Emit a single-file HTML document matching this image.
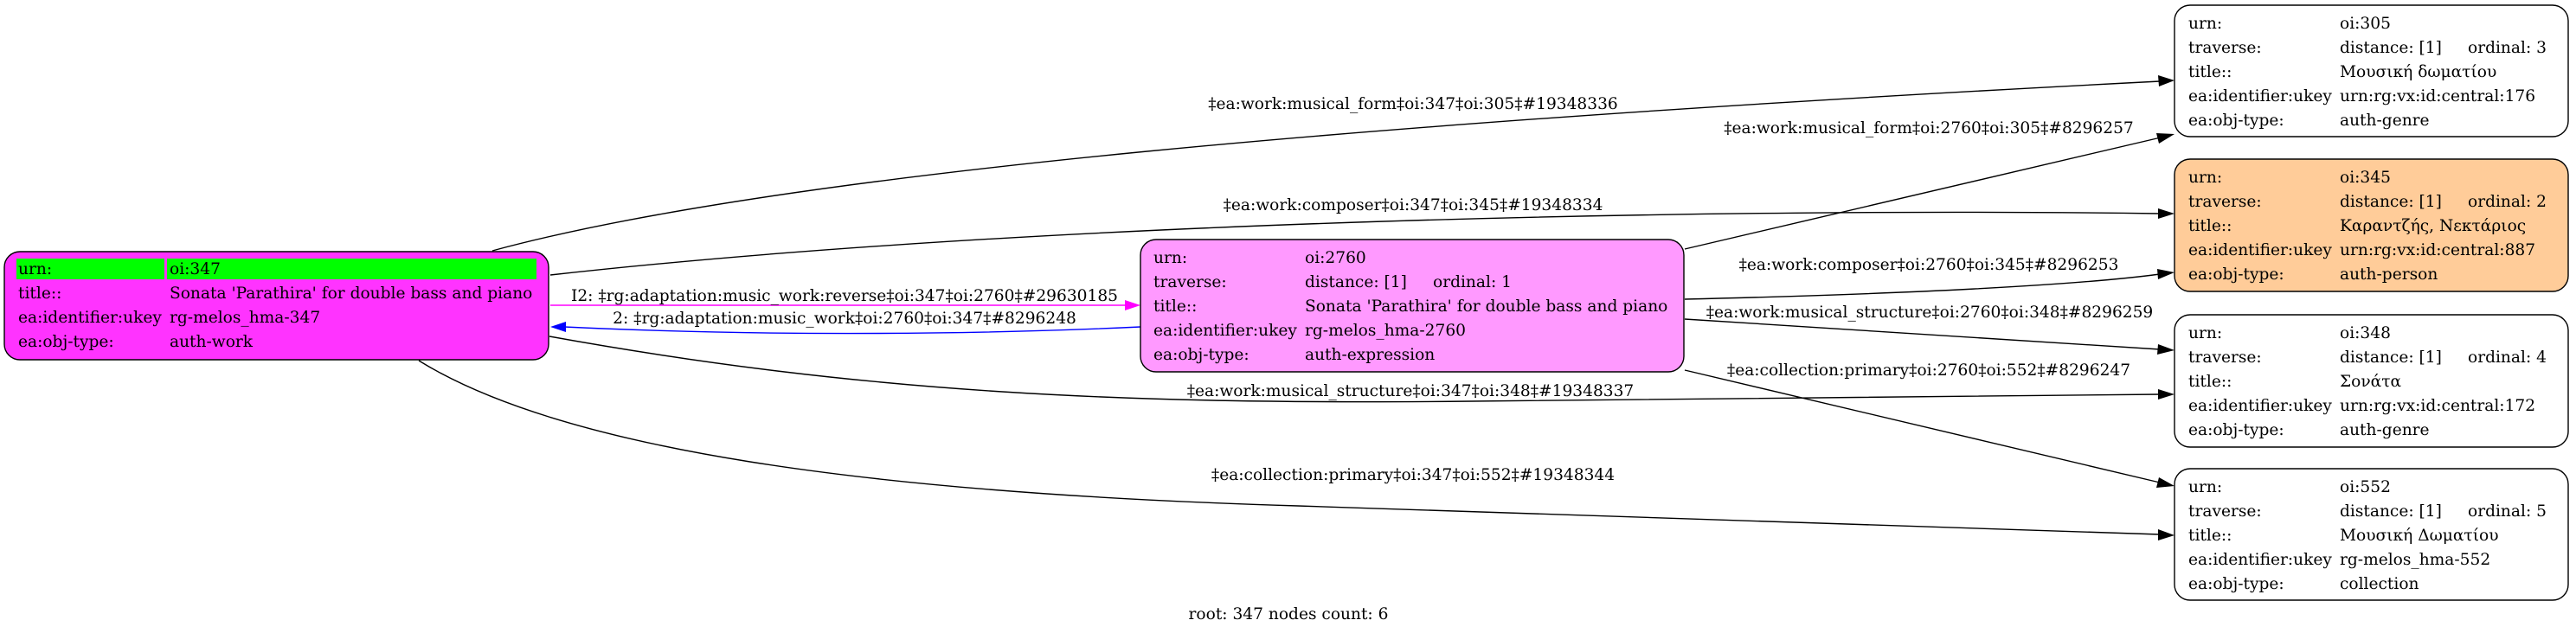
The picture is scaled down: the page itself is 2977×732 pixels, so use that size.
<!DOCTYPE html>
<html><head><meta charset="utf-8"><style>
html,body{margin:0;padding:0;background:#fff;}
svg{display:block;}
text{font-family:"DejaVu Serif","Liberation Serif",serif;font-size:18.6px;fill:#000;}
</style></head><body>
<svg width="2977" height="732" viewBox="0 0 2977 732" xmlns="http://www.w3.org/2000/svg">
<style>.e{fill:none;stroke:#000;stroke-width:1.4;}</style>
<!-- edges -->
<path class="e" d="M569,290 C900,200 1600,140 2496,94"/>
<path d="M2494,87 L2513,93 L2495,100 z"/>
<path class="e" d="M636,318 C1200,255 2000,240 2496,247"/>
<path d="M2494,241 L2513,247 L2494,253 z"/>
<path class="e" d="M635,389 C1000,455 1300,468 1700,464 S2300,458 2496,456"/>
<path d="M2494,450 L2513,456 L2494,462 z"/>
<path class="e" d="M484,417 C650,520 1000,570 1500,585 S2300,612 2496,618"/>
<path d="M2494,612 L2513,619 L2494,625 z"/>
<path class="e" d="M1947,288 L2497,159"/>
<path d="M2492,154 L2513,155 L2495,166 z"/>
<path class="e" d="M1947,346 C2200,340 2400,330 2496,317"/>
<path d="M2493,311 L2513,315 L2494,323 z"/>
<path class="e" d="M1947,369 L2496,404"/>
<path d="M2494,398 L2513,405 L2493,410 z"/>
<path class="e" d="M1947,428 L2496,558"/>
<path d="M2495,552 L2513,562 L2492,564 z"/>
<path d="M636,353 L1302,353" stroke="#ff00ff" stroke-width="1.4" fill="none"/>
<path d="M1300,347 L1318,353 L1300,359 z" fill="#ff00ff"/>
<path d="M1318,378 C1150,386 900,390 652,378" stroke="#0000ff" stroke-width="1.4" fill="none"/>
<path d="M654,372 L636,378 L654,384 z" fill="#0000ff"/>
<!-- edge labels -->
<g text-anchor="middle">
<text x="1633" y="126">‡ea:work:musical_form‡oi:347‡oi:305‡#19348336</text>
<text x="1633" y="243">‡ea:work:composer‡oi:347‡oi:345‡#19348334</text>
<text x="976" y="348">I2: ‡rg:adaptation:music_work:reverse‡oi:347‡oi:2760‡#29630185</text>
<text x="976" y="374">2: ‡rg:adaptation:music_work‡oi:2760‡oi:347‡#8296248</text>
<text x="1630" y="458">‡ea:work:musical_structure‡oi:347‡oi:348‡#19348337</text>
<text x="1633" y="555">‡ea:collection:primary‡oi:347‡oi:552‡#19348344</text>
<text x="2229" y="154">‡ea:work:musical_form‡oi:2760‡oi:305‡#8296257</text>
<text x="2229" y="312">‡ea:work:composer‡oi:2760‡oi:345‡#8296253</text>
<text x="2230" y="367">‡ea:work:musical_structure‡oi:2760‡oi:348‡#8296259</text>
<text x="2229" y="434">‡ea:collection:primary‡oi:2760‡oi:552‡#8296247</text>
<text x="1489" y="716">root: 347 nodes count: 6</text>
</g>
<!-- node 347 -->
<rect x="5" y="291" width="629" height="125" rx="18" fill="#ff33ff" stroke="#000" stroke-width="1.4"/>
<rect x="19" y="299" width="171" height="24" fill="#00ff00"/>
<rect x="193" y="299" width="427" height="24" fill="#00ff00"/>
<text x="21" y="317">urn:</text><text x="196" y="317">oi:347</text>
<text x="21" y="345">title::</text><text x="196" y="345">Sonata 'Parathira' for double bass and piano</text>
<text x="21" y="373">ea:identifier:ukey</text><text x="196" y="373">rg-melos_hma-347</text>
<text x="21" y="401">ea:obj-type:</text><text x="196" y="401">auth-work</text>
<!-- node 2760 -->
<rect x="1318" y="277" width="628" height="153" rx="18" fill="#ff99ff" stroke="#000" stroke-width="1.4"/>
<text x="1333" y="304">urn:</text><text x="1508" y="304">oi:2760</text>
<text x="1333" y="332">traverse:</text><text x="1508" y="332">distance: [1]</text><text x="1656" y="332">ordinal: 1</text>
<text x="1333" y="360">title::</text><text x="1508" y="360">Sonata 'Parathira' for double bass and piano</text>
<text x="1333" y="388">ea:identifier:ukey</text><text x="1508" y="388">rg-melos_hma-2760</text>
<text x="1333" y="416">ea:obj-type:</text><text x="1508" y="416">auth-expression</text>
<!-- node 305 -->
<rect x="2513" y="6" width="455" height="152" rx="18" fill="#fff" stroke="#000" stroke-width="1.4"/>
<text x="2529" y="33">urn:</text><text x="2704" y="33">oi:305</text>
<text x="2529" y="61">traverse:</text><text x="2704" y="61">distance: [1]</text><text x="2852" y="61">ordinal: 3</text>
<text x="2529" y="89">title::</text><text x="2704" y="89">Μουσική δωματίου</text>
<text x="2529" y="117">ea:identifier:ukey</text><text x="2704" y="117">urn:rg:vx:id:central:176</text>
<text x="2529" y="145">ea:obj-type:</text><text x="2704" y="145">auth-genre</text>
<!-- node 345 -->
<rect x="2513" y="184" width="455" height="153" rx="18" fill="#ffcc99" stroke="#000" stroke-width="1.4"/>
<text x="2529" y="211">urn:</text><text x="2704" y="211">oi:345</text>
<text x="2529" y="239">traverse:</text><text x="2704" y="239">distance: [1]</text><text x="2852" y="239">ordinal: 2</text>
<text x="2529" y="267">title::</text><text x="2704" y="267">Καραντζής, Νεκτάριος</text>
<text x="2529" y="295">ea:identifier:ukey</text><text x="2704" y="295">urn:rg:vx:id:central:887</text>
<text x="2529" y="323">ea:obj-type:</text><text x="2704" y="323">auth-person</text>
<!-- node 348 -->
<rect x="2513" y="364" width="455" height="153" rx="18" fill="#fff" stroke="#000" stroke-width="1.4"/>
<text x="2529" y="391">urn:</text><text x="2704" y="391">oi:348</text>
<text x="2529" y="419">traverse:</text><text x="2704" y="419">distance: [1]</text><text x="2852" y="419">ordinal: 4</text>
<text x="2529" y="447">title::</text><text x="2704" y="447">Σονάτα</text>
<text x="2529" y="475">ea:identifier:ukey</text><text x="2704" y="475">urn:rg:vx:id:central:172</text>
<text x="2529" y="503">ea:obj-type:</text><text x="2704" y="503">auth-genre</text>
<!-- node 552 -->
<rect x="2513" y="542" width="455" height="152" rx="18" fill="#fff" stroke="#000" stroke-width="1.4"/>
<text x="2529" y="569">urn:</text><text x="2704" y="569">oi:552</text>
<text x="2529" y="597">traverse:</text><text x="2704" y="597">distance: [1]</text><text x="2852" y="597">ordinal: 5</text>
<text x="2529" y="625">title::</text><text x="2704" y="625">Μουσική Δωματίου</text>
<text x="2529" y="653">ea:identifier:ukey</text><text x="2704" y="653">rg-melos_hma-552</text>
<text x="2529" y="681">ea:obj-type:</text><text x="2704" y="681">collection</text>
</svg>
</body></html>
